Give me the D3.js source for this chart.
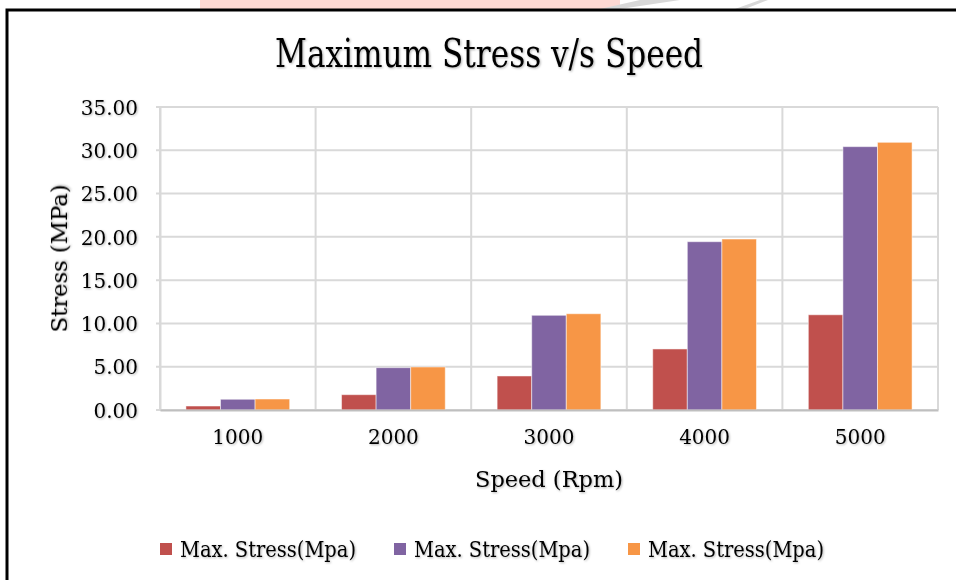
<!DOCTYPE html>
<html lang="en">
<head>
<meta charset="utf-8">
<title>Maximum Stress v/s Speed</title>
<style type="text/css">
    body {
        margin: 0;
        background-color: #fff;
    }
    svg {
        display: block;
        background-color: white;
    }
    .tick text, .axisTitle {
        font-family: "DejaVu Serif", "Liberation Serif", serif;
        fill: #000;
    }
    .grid line {
        stroke: #d9d9d9;
        stroke-width: 2px;
    }
    .legendText, .chartTitle {
        font-family: "DejaVu Serif Condensed", "DejaVu Serif", serif;
        fill: #000;
    }
</style>
<script src="https://d3js.org/d3.v7.min.js"></script>
</head>
<body>
<div id="chart"></div>
<script>

// data
var speeds = ["1000", "2000", "3000", "4000", "5000"];
var seriesNames = ["Max. Stress(Mpa)", "Max. Stress(Mpa)", "Max. Stress(Mpa)"];
var stressA = [0.46, 1.77, 3.93, 7.05, 11.00];
var stressB = [1.24, 4.89, 10.94, 19.44, 30.42];
var stressC = [1.27, 4.97, 11.12, 19.75, 30.92];
var yTicks = [0, 5, 10, 15, 20, 25, 30, 35];
var colors = ["#c0504d", "#8064a2", "#f79646"];

var width = 956, height = 580;
var plot = { left: 160, right: 938, top: 107, bottom: 410 };

var svg = d3.select("#chart")
    .append("svg")
    .attr("width", width)
    .attr("height", height);

// drop shadow used by the texts
var defs = svg.append("defs");
var shadow = defs.append("filter").attr("id", "shadow")
    .attr("x", "-5%").attr("y", "-10%").attr("width", "115%").attr("height", "130%");
shadow.append("feDropShadow")
    .attr("dx", 1).attr("dy", 1).attr("stdDeviation", 0.8)
    .attr("flood-color", "#000").attr("flood-opacity", 0.3);

// faint page watermark at the top edge
svg.append("rect")
    .attr("x", 200).attr("y", 0).attr("width", 420).attr("height", 9)
    .attr("fill", "#fdd9d3");
svg.append("path")
    .attr("d", "M600,9 L640,0 L680,0 L620,9 Z")
    .attr("fill", "#d8d8d8");
svg.append("path")
    .attr("d", "M735,9 L760,0 L768,0 L745,9 Z")
    .attr("fill", "#d8d8d8");

// outer frame (runs off the right and bottom edge)
svg.append("rect")
    .attr("x", 7).attr("y", 10)
    .attr("width", 980).attr("height", 600)
    .attr("fill", "none")
    .attr("stroke", "#000")
    .attr("stroke-width", 3);

var data = speeds.map(function(s, i) {
    return { speed: s, values: [stressA[i], stressB[i], stressC[i]] };
});

var xScale = d3.scaleBand()
    .domain(speeds)
    .range([plot.left, plot.right])
    .padding(0);

var x1Scale = d3.scaleBand()
    .domain([0, 1, 2])
    .range([0, xScale.bandwidth()])
    .paddingInner(0)
    .paddingOuter(0.75);

var yScale = d3.scaleLinear()
    .domain([0, 35])
    .range([plot.bottom, plot.top]);

// horizontal gridlines
svg.append("g")
    .attr("class", "grid")
    .selectAll("line")
    .data(yTicks)
    .enter()
    .append("line")
    .attr("x1", plot.left - 4)
    .attr("x2", plot.right)
    .attr("y1", function(d) { return yScale(d); })
    .attr("y2", function(d) { return yScale(d); });

// vertical gridlines between categories
var xEdges = speeds.map(function(s) { return xScale(s); }).concat([plot.right]);
svg.append("g")
    .attr("class", "grid")
    .selectAll("line")
    .data(xEdges)
    .enter()
    .append("line")
    .attr("x1", function(d) { return d; })
    .attr("x2", function(d) { return d; })
    .attr("y1", plot.top)
    .attr("y2", plot.bottom);

// bars
var groups = svg.selectAll(".group")
    .data(data)
    .enter()
    .append("g")
    .attr("class", "group")
    .attr("transform", function(d) { return "translate(" + xScale(d.speed) + ",0)"; });

groups.selectAll("rect")
    .data(function(d) { return d.values; })
    .enter()
    .append("rect")
    .attr("x", function(d, i) { return x1Scale(i); })
    .attr("y", function(d) { return yScale(d); })
    .attr("width", x1Scale.bandwidth())
    .attr("height", function(d) { return plot.bottom - yScale(d); })
    .attr("fill", function(d, i) { return colors[i]; })
    .attr("stroke", "#fff")
    .attr("stroke-opacity", 0.5)
    .attr("stroke-width", 1);

// axes
var yAxis = d3.axisLeft(yScale)
    .tickValues(yTicks)
    .tickSize(0)
    .tickPadding(22)
    .tickFormat(d3.format(".2f"));

var yAxisG = svg.append("g")
    .attr("transform", "translate(" + plot.left + ",0)")
    .call(yAxis);
yAxisG.select(".domain").attr("stroke", "#d9d9d9").attr("stroke-width", 2);
yAxisG.selectAll("text")
    .attr("font-size", 20)
    .attr("dy", "0.36em")
    .attr("filter", "url(#shadow)");

var xAxis = d3.axisBottom(xScale).tickSize(0).tickPadding(20);
var xAxisG = svg.append("g")
    .attr("transform", "translate(0," + plot.bottom + ")")
    .call(xAxis);
xAxisG.select(".domain").attr("stroke", "#bfbfbf").attr("stroke-width", 2);
xAxisG.selectAll("text")
    .attr("font-size", 20)
    .attr("filter", "url(#shadow)");

// titles
svg.append("text")
    .attr("class", "chartTitle")
    .attr("x", 489)
    .attr("y", 67)
    .attr("text-anchor", "middle")
    .attr("font-size", 40)
    .attr("textLength", 428)
    .attr("lengthAdjust", "spacingAndGlyphs")
    .attr("filter", "url(#shadow)")
    .text("Maximum Stress v/s Speed");

svg.append("text")
    .attr("class", "axisTitle")
    .attr("x", (plot.left + plot.right) / 2)
    .attr("y", 487)
    .attr("text-anchor", "middle")
    .attr("font-size", 22)
    .attr("textLength", 148)
    .attr("lengthAdjust", "spacingAndGlyphs")
    .attr("filter", "url(#shadow)")
    .text("Speed (Rpm)");

svg.append("text")
    .attr("class", "axisTitle")
    .attr("transform", "translate(67," + ((plot.top + plot.bottom) / 2) + ") rotate(-90)")
    .attr("text-anchor", "middle")
    .attr("font-size", 22)
    .attr("textLength", 148)
    .attr("lengthAdjust", "spacingAndGlyphs")
    .attr("filter", "url(#shadow)")
    .text("Stress (MPa)");

// legend
var legendX = [160, 394, 628];
var legend = svg.selectAll(".legendItem")
    .data(seriesNames)
    .enter()
    .append("g")
    .attr("class", "legendItem")
    .attr("transform", function(d, i) { return "translate(" + legendX[i] + ",543)"; });

legend.append("rect")
    .attr("width", 12)
    .attr("height", 12)
    .attr("fill", function(d, i) { return colors[i]; });

legend.append("text")
    .attr("class", "legendText")
    .attr("x", 20)
    .attr("y", 14)
    .attr("font-size", 23)
    .attr("textLength", 176)
    .attr("lengthAdjust", "spacingAndGlyphs")
    .attr("filter", "url(#shadow)")
    .text(function(d) { return d; });

</script>
</body>
</html>
